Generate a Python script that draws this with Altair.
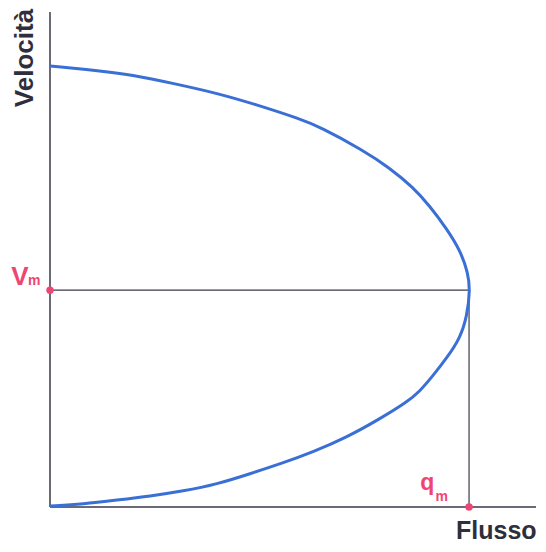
import altair as alt
import pandas as pd

# Speed-flow curve (flow, velocity) in arbitrary units
flow = [0, 10.1, 16.7, 25.2, 33.7, 41.9, 50.4, 54.4, 63.1, 68.5, 73.2, 76.6, 80.0,
        82.7, 84.3, 84.7, 84.1, 82.7, 80.0, 77.2, 74.6, 72.0, 66.5, 59.9, 53.0,
        47.0, 40.3, 33.7, 26.8, 20.2, 13.5, 6.7, 0]
velocity = [89.1, 88.1, 87.3, 85.5, 83.6, 81.2, 78.4, 76.8, 72.1, 68.5, 64.6, 60.8, 56.2,
            51.9, 47.3, 43.8, 38.6, 34.1, 30.1, 26.5, 23.4, 21.2, 17.8, 14.1, 11.1,
            8.9, 6.7, 4.6, 3.2, 2.2, 1.4, 0.6, 0.2]
qm = 84.5
vm = 43.8
x_max = 98
y_max = 100

axis_color = "#3a3a4a"
blue = "#3a6fd6"
pink = "#ef4574"
dark = "#2e2e3c"
FONT = "Liberation Sans"

curve = pd.DataFrame({"f": flow, "v": velocity, "o": list(range(len(flow)))})
xs = alt.Scale(domain=[0, x_max])
ys = alt.Scale(domain=[0, y_max])


def X():
    return alt.X("f:Q", scale=xs, axis=None)


def Y():
    return alt.Y("v:Q", scale=ys, axis=None)


axes_df = pd.DataFrame({"f": [0, 0], "v": [0, 0], "f2": [x_max, 0], "v2": [0, y_max]})
axes = alt.Chart(axes_df).mark_rule(color=axis_color, strokeWidth=1.5).encode(
    x=X(), y=Y(), x2="f2:Q", y2="v2:Q")

guide_df = pd.DataFrame({"f": [0, qm], "v": [vm, vm], "f2": [qm, qm], "v2": [vm, 0]})
guides = alt.Chart(guide_df).mark_rule(color=axis_color, strokeWidth=1.2).encode(
    x=X(), y=Y(), x2="f2:Q", y2="v2:Q")

line = alt.Chart(curve).mark_line(color=blue, strokeWidth=3, interpolate="basis").encode(
    x=X(), y=Y(), order="o:Q")

pts_df = pd.DataFrame({"f": [0, qm], "v": [vm, 0]})
pts = alt.Chart(pts_df).mark_circle(color=pink, size=55, opacity=1).encode(x=X(), y=Y())

lab_df = pd.DataFrame({
    "f": [-6.05, -3.2, 76.1, 79.0],
    "v": [44.8, 44.8, 3.4, 1.2],
    "t": ["V", "m", "q", "m"],
    "s": [26, 14, 23, 14],
})
labels = alt.Chart(lab_df).mark_text(color=pink, fontWeight="bold", font=FONT,
                                     align="center", baseline="alphabetic").encode(
    x=X(), y=Y(), text="t:N", size=alt.Size("s:Q", scale=None, legend=None))

title_df = pd.DataFrame({"f": [90.0], "v": [-6.4], "t": ["Flusso"]})
xtitle = alt.Chart(title_df).mark_text(color=dark, fontWeight="bold", fontSize=25, font=FONT,
                                       align="center", baseline="alphabetic").encode(
    x=X(), y=Y(), text="t:N")
ytitle_df = pd.DataFrame({"f": [-3.4], "v": [90.7], "t": ["Velocità"]})
ytitle = alt.Chart(ytitle_df).mark_text(color=dark, fontWeight="bold", fontSize=26, angle=270,
                                        font=FONT, align="center", baseline="alphabetic").encode(
    x=X(), y=Y(), text="t:N")

chart = alt.layer(axes, guides, line, pts, labels, xtitle, ytitle).properties(
    width=486, height=495,
    autosize=alt.AutoSizeParams(type="none"),
    padding={"left": 42, "top": 4, "right": 2, "bottom": 37},
    background="white",
).configure_view(stroke=None)

chart.save("out.html", embed_options={"renderer": "svg", "actions": False})
